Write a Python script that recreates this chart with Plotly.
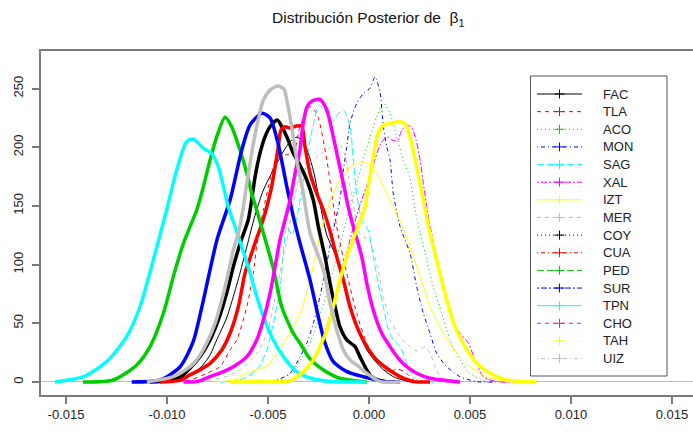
import plotly.graph_objects as go

# Posterior density estimates of beta_1, one curve per site
fac_x = [-0.01059, -0.00936, -0.00837, -0.00787, -0.00754, -0.00705, -0.00672, -0.00639, -0.00605, -0.00564,
         -0.00523, -0.00474, -0.00426, -0.00391, -0.00356, -0.00317, -0.00276, -0.00243, -0.00209, -0.00160,
         -0.00127, -0.00094, -0.00053, -0.00011, 0.00055, 0.00120, 0.00203]
fac_y = [0, 2.6, 11.9, 23, 35.8, 54.5, 72.7, 92.6, 115.2, 142.2, 163.5, 180.6, 195.9, 204.7, 208.7, 201.9,
         180.6, 152.2, 125.2, 105.6, 84.1, 64.1, 44.3, 27.3, 13, 4.5, 0]

tla_x = [-0.00985, -0.00886, -0.00804, -0.00738, -0.00688, -0.00655, -0.00605, -0.00573, -0.00555, -0.00523,
         -0.00490, -0.00457, -0.00416, -0.00375, -0.00342, -0.00292, -0.00259, -0.00209, -0.00160, -0.00110,
         -0.00061, -0.00011, 0.00038, 0.00094, 0.00139, 0.00178, 0.00228, 0.00302]
tla_y = [0, 1.7, 7.4, 13, 27.3, 35.8, 64.1, 92.6, 116.7, 146.5, 172.1, 190.8, 193.4, 194.8, 217.5, 234.5,
         228.9, 189.1, 132.3, 92.6, 58.5, 33, 18.7, 8.5, 11.1, 8.5, 0.9, 0]

aco_x = [-0.00515, -0.00416, -0.00342, -0.00292, -0.00243, -0.00193, -0.00144, -0.00104, -0.00064, -0.00030,
         0.00005, 0.00038, 0.00071, 0.00104, 0.00137, 0.00170, 0.00203, 0.00228, 0.00253, 0.00286, 0.00318,
         0.00360, 0.00401, 0.00451, 0.00500, 0.00583, 0.00665]
aco_y = [0, 3.4, 18.7, 33.2, 57.1, 84.3, 116.7, 142.2, 167.8, 189.1, 208.7, 225.7, 237.4, 228.9, 208.9, 189.1,
         173.8, 146.5, 126.7, 103.9, 81.2, 58.5, 35.8, 18.7, 7.4, 0.3, 0]

mon_x = [-0.00564, -0.00457, -0.00391, -0.00342, -0.00308, -0.00276, -0.00243, -0.00209, -0.00183, -0.00144,
         -0.00127, -0.00110, -0.00094, -0.00061, -0.00028, 0.00005, 0.00030, 0.00055, 0.00071, 0.00088, 0.00104,
         0.00120, 0.00154, 0.00203, 0.00236, 0.00269, 0.00302, 0.00335, 0.00385, 0.00451, 0.00533, 0.00624]
mon_y = [0, 1.7, 7.4, 21.3, 33, 50, 72.7, 101.1, 125.2, 155, 180.6, 200.4, 220.4, 237.4, 245.9, 250.4, 260,
         245.9, 217.5, 200.4, 189.1, 160.7, 132.3, 109.6, 81.2, 58.5, 41.5, 24.4, 13, 4.5, 0.3, 0]

sag_x = [-0.00738, -0.00639, -0.00556, -0.00506, -0.00474, -0.00441, -0.00406, -0.00381, -0.00352, -0.00317,
         -0.00282, -0.00248, -0.00213, -0.00183, -0.00154, -0.00127, -0.00094, -0.00078, -0.00061, -0.00036,
         -0.00004, 0.00021, 0.00046, 0.00071, 0.00096, 0.00120, 0.00154, 0.00187, 0.00219, 0.00253, 0.00327]
sag_y = [0, 1.7, 10.2, 27.3, 50, 78.4, 132.9, 125.2, 144.8, 180.6, 214.6, 235.9, 230, 221.5, 228.3, 231.7,
         217.5, 189.1, 160.7, 138, 129.5, 106.7, 84.1, 64.1, 44.3, 35.8, 30.1, 15.9, 4.5, 0.3, 0]

xal_x = [-0.00490, -0.00391, -0.00317, -0.00243, -0.00178, -0.00129, -0.00084, -0.00045, -0.00010, 0.00021,
         0.00055, 0.00088, 0.00114, 0.00139, 0.00163, 0.00188, 0.00213, 0.00233, 0.00253, 0.00269, 0.00294,
         0.00327, 0.00368, 0.00409, 0.00451, 0.00492, 0.00525, 0.00566, 0.00632, 0.00772]
xal_y = [0, 1.7, 9.4, 31.5, 65.6, 97.1, 127.8, 150.8, 167.8, 184.8, 201.9, 208.9, 206.1, 205.3, 214.6, 218.9,
         216.4, 206.1, 189.1, 169.3, 140.8, 112.4, 81.2, 52.8, 41.5, 33, 18.7, 4.5, 0.3, 0]

izt_x = [-0.00762, -0.00672, -0.00589, -0.00506, -0.00424, -0.00342, -0.00292, -0.00259, -0.00226, -0.00177,
         -0.00129, -0.00084, -0.00030, 0.00005, 0.00038, 0.00088, 0.00137, 0.00187, 0.00253, 0.00302, 0.00368,
         0.00434, 0.00500, 0.00583, 0.00682, 0.00772]
izt_y = [0, 1.7, 8.5, 13.6, 33, 57.9, 86.9, 112.4, 136.3, 160.7, 177.2, 184, 187.6, 184.8, 177.8, 160.7,
         143.7, 122.7, 89.7, 64.1, 41.5, 24.4, 13, 4.5, 0.3, 0]

mer_x = [-0.00837, -0.00713, -0.00639, -0.00556, -0.00506, -0.00474, -0.00441, -0.00407, -0.00375, -0.00342,
         -0.00259, -0.00193, -0.00154, -0.00119, -0.00094, -0.00069, -0.00045, 0.00005, 0.00038, 0.00071,
         0.00104, 0.00154, 0.00203, 0.00238, 0.00277, 0.00302, 0.00327, 0.00352, 0.00386, 0.00451]
mer_y = [0, 4.3, 10.2, 24.4, 41.5, 64.1, 92.6, 121, 150.8, 174.6, 191.7, 199.3, 204.4, 193.4, 166.4, 143.7,
         126.7, 119.3, 101.1, 72.7, 52.8, 38.6, 29.8, 26.4, 30.1, 24.4, 13, 4.5, 0.3, 0]

coy_x = [-0.01084, -0.00985, -0.00926, -0.00886, -0.00837, -0.00787, -0.00746, -0.00705, -0.00672, -0.00634,
         -0.00598, -0.00581, -0.00564, -0.00540, -0.00515, -0.00490, -0.00454, -0.00432, -0.00407, -0.00375,
         -0.00342, -0.00308, -0.00276, -0.00251, -0.00218, -0.00193, -0.00168, -0.00144, -0.00110, -0.00069,
         -0.00045, -0.00020, 0.00013, 0.00071, 0.00129]
coy_y = [0, 1.3, 5.1, 11.9, 21.6, 35.8, 52.8, 75.6, 98.2, 120.1, 138, 155, 174.9, 194.8, 208.9, 217.5, 223.2,
         217.5, 208.9, 194.8, 184.8, 172.1, 155, 132.3, 106.7, 84.1, 64.1, 47.1, 35.8, 30.1, 21.6, 13, 4.5,
         0.3, 0]

cua_x = [-0.01035, -0.00936, -0.00886, -0.00853, -0.00787, -0.00729, -0.00688, -0.00647, -0.00614, -0.00589,
         -0.00559, -0.00531, -0.00506, -0.00482, -0.00465, -0.00449, -0.00436, -0.00416, -0.00391, -0.00358,
         -0.00333, -0.00317, -0.00292, -0.00259, -0.00226, -0.00193, -0.00160, -0.00127, -0.00094, -0.00053,
         -0.00011, 0.00038, 0.00088, 0.00154, 0.00219, 0.00302]
cua_y = [0, 1.4, 6, 8.8, 15.9, 27.3, 41.5, 64.1, 92.6, 105.6, 121, 134.6, 149.3, 166.4, 183.4, 200.4, 214.6,
         217.5, 216.4, 218.1, 218.1, 200.4, 177.8, 160.7, 146.5, 128.6, 106.7, 86.9, 64.1, 44.3, 30.1, 18.7,
         11.7, 4.5, 0.3, 0]

ped_x = [-0.01416, -0.01266, -0.01150, -0.01084, -0.01018, -0.00969, -0.00919, -0.00886, -0.00853, -0.00820,
         -0.00787, -0.00754, -0.00713, -0.00680, -0.00639, -0.00605, -0.00581, -0.00556, -0.00523, -0.00499,
         -0.00474, -0.00432, -0.00375, -0.00342, -0.00292, -0.00226, -0.00144, -0.00011]
ped_y = [0, 1.7, 14.5, 30.1, 58.5, 89.7, 118.1, 132.3, 146.5, 166.4, 189.1, 208.9, 225.5, 217.5, 197.6, 177.8,
         160.7, 146.5, 126.7, 112.4, 97, 64.1, 41.5, 33.2, 19.6, 10.2, 3.2, 0]

sur_x = [-0.01175, -0.01035, -0.00936, -0.00871, -0.00822, -0.00753, -0.00688, -0.00630, -0.00589, -0.00530,
         -0.00490, -0.00451, -0.00407, -0.00375, -0.00342, -0.00292, -0.00251, -0.00218, -0.00177, -0.00110,
         -0.00028, 0.00088, 0.00154]
sur_y = [0, 1.7, 12.8, 34.1, 68.1, 121, 155, 197.6, 219, 229, 225, 203.6, 166.4, 140.8, 118.4, 86.9, 55.6,
         33.2, 17.3, 8.8, 4.5, 0.3, 0]

tpn_x = [-0.01555, -0.01414, -0.01299, -0.01200, -0.01134, -0.01068, -0.01002, -0.00952, -0.00903, -0.00870,
         -0.00820, -0.00779, -0.00746, -0.00721, -0.00697, -0.00663, -0.00630, -0.00589, -0.00540, -0.00482,
         -0.00424, -0.00358, -0.00292, -0.00193, -0.00015]
tpn_y = [0, 4.5, 17.3, 38.6, 64.1, 103.9, 146.5, 180.6, 204.7, 207, 199.1, 194.8, 183.4, 166.4, 149.3, 132.3,
         115.2, 92.8, 64.1, 38.6, 21.6, 8.8, 3.4, 0.4, 0]

cho_x = [-0.00919, -0.00853, -0.00787, -0.00721, -0.00672, -0.00605, -0.00556, -0.00523, -0.00490, -0.00465,
         -0.00441, -0.00416, -0.00391, -0.00366, -0.00342, -0.00327, -0.00307, -0.00282, -0.00243, -0.00209,
         -0.00177, -0.00152, -0.00127, -0.00103, -0.00078, -0.00036, -0.00011, 0.00021, 0.00063, 0.00104,
         0.00145, 0.00187, 0.00236, 0.00302, 0.00451]
cho_y = [0, 0.3, 4.5, 8.8, 13, 21.6, 35.8, 52.8, 75.6, 98.2, 121, 138, 155, 177.8, 197.6, 218.9, 234.5, 239.4,
         240.8, 231.7, 208.9, 189.1, 169.3, 149.3, 132.3, 106.7, 84.1, 61.3, 41.5, 30.1, 20.2, 13, 7.4, 3.2, 0]

tah_x = [-0.00688, -0.00540, -0.00391, -0.00325, -0.00276, -0.00243, -0.00209, -0.00177, -0.00144, -0.00110,
         -0.00061, -0.00020, -0.00004, 0.00013, 0.00030, 0.00045, 0.00074, 0.00114, 0.00154, 0.00178, 0.00203,
         0.00236, 0.00269, 0.00302, 0.00343, 0.00385, 0.00426, 0.00475, 0.00533, 0.00599, 0.00682, 0.00830]
tah_y = [0, 0.3, 0.9, 8.8, 18.7, 30.1, 44.3, 64.1, 86.9, 106.7, 129.5, 149.3, 166.4, 183.4, 200.4, 212.1,
         218.9, 220.6, 221.7, 219.8, 208.9, 183.4, 155, 126.7, 98.2, 69.8, 47.1, 30.1, 15.9, 7.4, 1.7, 0]

uiz_x = [-0.01100, -0.00969, -0.00886, -0.00853, -0.00804, -0.00762, -0.00729, -0.00697, -0.00672, -0.00647,
         -0.00622, -0.00605, -0.00581, -0.00556, -0.00523, -0.00490, -0.00451, -0.00421, -0.00407, -0.00383,
         -0.00358, -0.00325, -0.00292, -0.00226, -0.00193, -0.00160, -0.00127, -0.00094, -0.00061, -0.00011,
         0.00055, 0.00154]
uiz_y = [0, 4.5, 13, 18.7, 33, 50, 69.8, 92.6, 112.4, 126.7, 149.3, 169.3, 194.8, 217.5, 240.2, 248.7, 252.1,
         249.6, 240.2, 217.5, 189.1, 160.7, 126.9, 95.4, 67, 44.3, 27.3, 18.7, 14.5, 7.4, 0.3, 0]

site_names = ["FAC", "TLA", "ACO", "MON", "SAG", "XAL", "IZT", "MER",
              "COY", "CUA", "PED", "SUR", "TPN", "CHO", "TAH", "UIZ"]
series_x = [fac_x, tla_x, aco_x, mon_x, sag_x, xal_x, izt_x, mer_x,
            coy_x, cua_x, ped_x, sur_x, tpn_x, cho_x, tah_x, uiz_x]
series_y = [fac_y, tla_y, aco_y, mon_y, sag_y, xal_y, izt_y, mer_y,
            coy_y, cua_y, ped_y, sur_y, tpn_y, cho_y, tah_y, uiz_y]

x_ticks = [-0.015, -0.010, -0.005, 0.000, 0.005, 0.010, 0.015]
x_tick_labels = ["-0.015", "-0.010", "-0.005", "0.000", "0.005", "0.010", "0.015"]
y_ticks = [0, 50, 100, 150, 200, 250]

# R-style palette and line types, cycled over the sixteen series
palette = ["#000000", "#FF0000", "#00CD00", "#0000FF", "#00FFFF", "#FF00FF", "#FFFF00", "#BEBEBE"]
line_types = ["solid", "4px,4px", "1px,3px", "1px,3px,4px,3px", "7px,3px", "2px,2px,6px,2px"]

W, H = 693, 432
M_L, M_R, M_T, M_B = 41, 0, 51, 37
plot_w = W - M_L - M_R
plot_h = H - M_T - M_B


def px_to_paper_x(px):
    return (px - M_L) / plot_w


def px_to_paper_y(py):
    return (H - M_B - py) / plot_h


fig = go.Figure()

for i, name in enumerate(site_names):
    color = palette[i % 8]
    dash = line_types[i % 6]
    thick = i >= 8
    fig.add_trace(go.Scatter(
        x=series_x[i], y=series_y[i], mode="lines", name=name,
        line=dict(color=color, width=3.5 if thick else 1,
                  dash="solid" if thick else dash,
                  shape="spline", smoothing=0.7),
        showlegend=False, hoverinfo="skip",
    ))

# Legend panel (box, key lines with a cross, labels), laid out in pixels
box_left, box_right, box_top, box_bottom = 530.5, 667, 76, 376
first_row, row_step = 94, 17.64
key_x0, key_x1, key_mid = 537, 582, 559.5
label_x = 601

shapes = [dict(type="rect", xref="paper", yref="paper", layer="above",
               x0=px_to_paper_x(box_left), x1=px_to_paper_x(box_right),
               y0=px_to_paper_y(box_bottom), y1=px_to_paper_y(box_top),
               fillcolor="white", line=dict(color="#555555", width=1))]
annotations = []
for i, name in enumerate(site_names):
    color = palette[i % 8]
    dash = line_types[i % 6]
    row_y = first_row + i * row_step
    shapes.append(dict(type="line", xref="paper", yref="paper", layer="above",
                       x0=px_to_paper_x(key_x0), x1=px_to_paper_x(key_x1),
                       y0=px_to_paper_y(row_y), y1=px_to_paper_y(row_y),
                       line=dict(color=color, width=1, dash=dash)))
    shapes.append(dict(type="line", xref="paper", yref="paper", layer="above",
                       x0=px_to_paper_x(key_mid - 5), x1=px_to_paper_x(key_mid + 5),
                       y0=px_to_paper_y(row_y), y1=px_to_paper_y(row_y),
                       line=dict(color=color, width=1)))
    shapes.append(dict(type="line", xref="paper", yref="paper", layer="above",
                       x0=px_to_paper_x(key_mid), x1=px_to_paper_x(key_mid),
                       y0=px_to_paper_y(row_y - 4.5), y1=px_to_paper_y(row_y + 4.5),
                       line=dict(color=color, width=1)))
    annotations.append(dict(text=name, xref="paper", yref="paper",
                            x=px_to_paper_x(label_x), y=px_to_paper_y(row_y),
                            xanchor="left", yanchor="middle", showarrow=False,
                            font=dict(size=13, color="#222222")))

axis_color = "#7a7a7a"
font_family = "Liberation Sans, Arial, sans-serif"

fig.update_layout(
    width=W, height=H,
    margin=dict(l=M_L, r=M_R, t=M_T, b=M_B),
    paper_bgcolor="white", plot_bgcolor="white",
    font=dict(family=font_family, size=13, color="#222222"),
    title=dict(text="Distribución Posterior de\u00a0 β<sub>1</sub>",
               x=0.502, xref="paper", xanchor="center",
               y=1 - 18 / H, yref="container", yanchor="middle",
               font=dict(family=font_family, size=15.5, color="#111111")),
    showlegend=False,
    shapes=shapes,
    annotations=annotations,
)

fig.update_xaxes(
    range=[-0.01624, 0.01604], tickvals=x_ticks, ticktext=x_tick_labels,
    showgrid=False, zeroline=False,
    showline=True, linecolor=axis_color, linewidth=1.5, mirror=True,
    ticks="outside", ticklen=7, tickcolor=axis_color, tickwidth=1.5,
)
fig.update_yaxes(
    range=[-11.1, 282], tickvals=y_ticks, tickangle=-90, ticklabelstandoff=4,
    showgrid=False, zeroline=True, zerolinecolor="#BEBEBE", zerolinewidth=1,
    showline=True, linecolor=axis_color, linewidth=1.5, mirror=False,
    ticks="outside", ticklen=7, tickcolor=axis_color, tickwidth=1.5,
)

fig.write_html("out.html")
